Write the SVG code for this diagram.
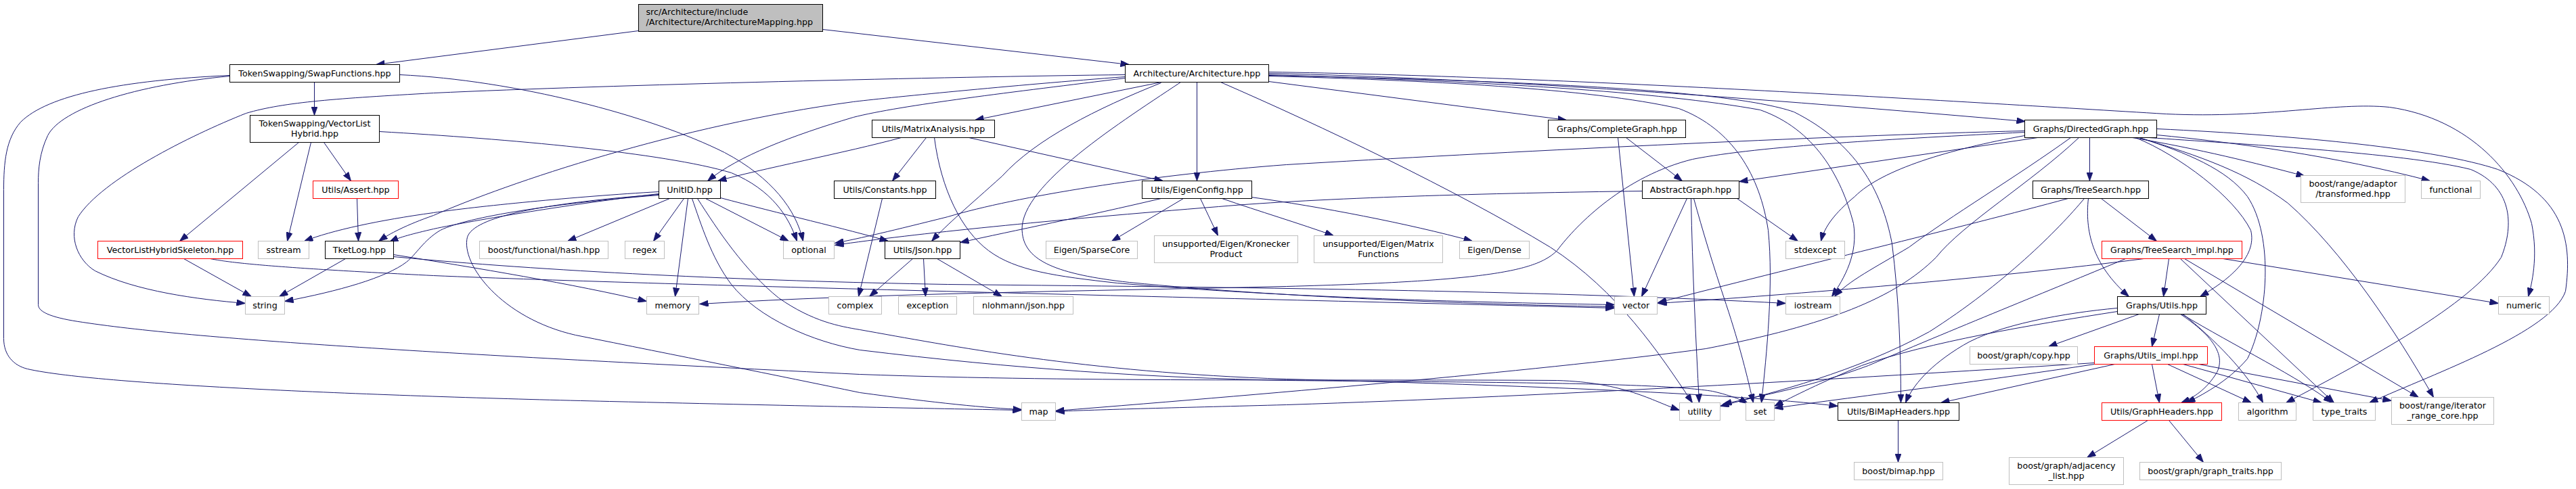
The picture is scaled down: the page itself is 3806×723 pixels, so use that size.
<svg xmlns="http://www.w3.org/2000/svg" width="3806" height="723" viewBox="0 0 3806 723">
<style>
.e{fill:none;stroke:#191970;stroke-width:1;marker-end:url(#a)}
.b rect{fill:#fff;stroke:#000}
.x rect{fill:#fff;stroke:#bfbfbf}
.r rect{fill:#fff;stroke:#ff0000}
.root rect{fill:#bfbfbf;stroke:#000}
text{font-family:"DejaVu Sans",sans-serif;font-size:12.7px;fill:#000;text-anchor:middle}
.root text{text-anchor:start}
</style>
<defs>
<marker id="a" viewBox="0 0 13 9.4" refX="13" refY="4.7" markerWidth="13" markerHeight="9.4" markerUnits="userSpaceOnUse" orient="auto"><path d="M0,0L13,4.7L0,9.4z" fill="#191970" stroke="#191970" stroke-width="0.8"/></marker>
</defs>
<rect width="3806" height="723" fill="#fff"/>
<g transform="translate(0.5 0.5)">
<g id="edges">
<path class="e" d="M943,45L555,95"/>
<path class="e" d="M1215,43L1668,95"/>
<path class="e" d="M464,121L464,170"/>
<path class="e" d="M590,110C760,118 960,170 1070,225C1140,262 1176,310 1186,356"/>
<path class="e" d="M560,194C750,205 980,225 1080,255C1140,280 1165,320 1177,356"/>
<path class="e" d="M441,210L265,356"/>
<path class="e" d="M459,210L424,356"/>
<path class="e" d="M478,210L518,267"/>
<path class="e" d="M527,293L529,356"/>
<path class="e" d="M339,111C180,118 70,140 30,180C8,205 5,240 5,280L5,500C5,525 20,540 40,545C150,570 600,586 900,593C1200,600 1400,604 1509,606"/>
<path class="e" d="M339,112C200,125 90,160 70,200C58,225 56,250 56,270L56,450C56,462 80,470 122,476C300,503 700,525 1270,553C1600,565 2000,560 2300,562C2400,565 2440,592 2481,606"/>
<path class="e" d="M1662,110C1400,113 900,125 640,137C500,145 420,150 363,167C280,200 150,265 115,320C100,350 115,385 140,400C200,430 290,442 362,448"/>
<path class="e" d="M1662,115C1500,135 1330,155 1260,173C1170,200 1090,230 1045,267"/>
<path class="e" d="M1331,203C1250,225 1120,250 1060,267"/>
<path class="e" d="M1662,113C1500,125 1300,145 1260,150C1000,185 750,270 640,318C600,332 575,345 559,356"/>
<path class="e" d="M973,283C850,290 700,305 640,314C560,325 490,340 449,356"/>
<path class="e" d="M973,286C850,300 700,325 640,338C610,345 590,350 575,357"/>
<path class="e" d="M973,288C820,300 690,320 650,340C625,355 615,375 600,387C570,410 500,430 420,445"/>
<path class="e" d="M989,293L838,356"/>
<path class="e" d="M1010,293L965,356"/>
<path class="e" d="M1016,293L997,438"/>
<path class="e" d="M1042,293L1165,356"/>
<path class="e" d="M1064,292C1150,315 1250,338 1312,356"/>
<path class="e" d="M973,287C800,300 700,320 690,350C680,390 740,470 850,495C1000,525 1150,555 1270,580C1380,595 1460,603 1509,605"/>
<path class="e" d="M1022,293C1035,330 1050,380 1080,420C1120,470 1200,505 1270,517C1500,545 1700,558 1900,562C2200,565 2450,565 2530,578C2560,585 2575,592 2582,596"/>
<path class="e" d="M1030,293C1060,340 1100,400 1150,440C1200,475 1240,482 1270,487C1400,510 1600,550 1900,560C2200,568 2550,580 2715,600"/>
<path class="e" d="M1368,203L1318,267"/>
<path class="e" d="M1431,203L1718,267"/>
<path class="e" d="M1380,203C1390,280 1420,340 1460,370C1500,400 1560,408 1650,418C1900,440 2200,447 2385,450"/>
<path class="e" d="M1715,121L1440,177"/>
<path class="e" d="M1768,121L1768,267"/>
<path class="e" d="M1715,122C1620,160 1530,205 1480,260C1430,305 1400,330 1376,356"/>
<path class="e" d="M1744,121C1640,190 1500,280 1510,345C1515,385 1560,405 1668,417C1900,440 2200,450 2385,453"/>
<path class="e" d="M1874,120L2314,177"/>
<path class="e" d="M1803,121C1950,185 2150,280 2290,365C2390,430 2450,520 2500,595"/>
<path class="e" d="M1874,108C2200,115 2600,145 2992,179"/>
<path class="e" d="M1874,106C2300,112 2900,150 3200,168C3350,175 3450,150 3530,158C3650,175 3720,260 3740,330C3750,380 3740,420 3735,438"/>
<path class="e" d="M1874,110C2200,120 2450,135 2600,162C2680,190 2720,260 2738,330C2745,375 2725,410 2706,438"/>
<path class="e" d="M1874,112C2100,118 2350,130 2480,160C2560,190 2600,260 2612,340C2620,420 2610,520 2602,595"/>
<path class="e" d="M1874,111C2200,118 2550,130 2650,165C2740,210 2780,280 2795,360C2805,440 2808,520 2808,595"/>
<path class="e" d="M2402,203L2485,267"/>
<path class="e" d="M2390,203L2414,438"/>
<path class="e" d="M2426,282C2200,285 1950,292 1800,305C1550,325 1350,345 1233,362"/>
<path class="e" d="M2991,193C2700,200 2200,225 1900,243C1700,258 1500,290 1400,320C1320,340 1270,352 1233,359"/>
<path class="e" d="M2492,293L2425,438"/>
<path class="e" d="M2498,293C2500,400 2505,500 2510,595"/>
<path class="e" d="M2502,293C2515,340 2530,390 2550,450C2570,510 2582,560 2590,595"/>
<path class="e" d="M2566,293L2656,356"/>
<path class="e" d="M3010,203L2569,268"/>
<path class="e" d="M2991,200C2880,220 2780,250 2740,290C2710,315 2695,335 2690,356"/>
<path class="e" d="M2991,195C2800,205 2600,215 2500,235C2400,260 2330,330 2300,370C2270,400 2200,415 1900,423C1600,430 1300,433 1033,449"/>
<path class="e" d="M3087,203L3087,267"/>
<path class="e" d="M3059,203C2980,260 2880,320 2820,365C2770,395 2730,415 2710,438"/>
<path class="e" d="M3071,203C3000,270 2900,330 2860,380C2800,440 2700,480 2520,515C2300,545 1900,580 1559,607"/>
<path class="e" d="M3186,190C3400,200 3600,220 3690,250C3790,290 3800,360 3790,430C3770,490 3600,550 3500,595"/>
<path class="e" d="M3175,203C3300,212 3550,225 3650,250C3710,275 3715,330 3695,380C3650,450 3500,530 3377,595"/>
<path class="e" d="M3186,199C3300,210 3450,230 3590,267"/>
<path class="e" d="M3150,203C3250,220 3330,240 3405,260"/>
<path class="e" d="M3160,203C3250,230 3320,255 3380,300C3460,370 3540,490 3595,587"/>
<path class="e" d="M3160,203C3230,225 3290,250 3320,290C3360,350 3350,470 3320,530C3290,565 3250,585 3230,595"/>
<path class="e" d="M3155,203C3220,230 3300,290 3325,340C3335,380 3290,415 3250,438"/>
<path class="e" d="M3104,293L3186,356"/>
<path class="e" d="M3085,293C3080,340 3090,390 3145,438"/>
<path class="e" d="M3055,293C2900,335 2650,395 2449,447"/>
<path class="e" d="M3079,293C3040,340 2960,420 2850,490C2740,550 2620,580 2541,600"/>
<path class="e" d="M3204,382L3196,438"/>
<path class="e" d="M3221,382L3448,595"/>
<path class="e" d="M3227,382L3573,587"/>
<path class="e" d="M3284,382L3691,448"/>
<path class="e" d="M3167,382C2950,410 2650,435 2449,448"/>
<path class="e" d="M3140,382C3050,420 2900,480 2760,540C2680,570 2600,585 2545,597"/>
<path class="e" d="M3160,464L3026,512"/>
<path class="e" d="M3190,464L3179,512"/>
<path class="e" d="M3221,464C3260,490 3290,520 3275,550C3260,575 3240,588 3222,595"/>
<path class="e" d="M3225,464C3270,500 3320,550 3343,595"/>
<path class="e" d="M3223,464C3300,510 3400,560 3445,595"/>
<path class="e" d="M3128,455C3050,462 2950,480 2900,510C2850,540 2825,570 2815,595"/>
<path class="e" d="M3128,460C3000,480 2850,505 2750,540C2690,565 2650,585 2621,600"/>
<path class="e" d="M3179,538L3190,595"/>
<path class="e" d="M3202,538L3326,595"/>
<path class="e" d="M3225,538L3430,595"/>
<path class="e" d="M3248,538L3533,592"/>
<path class="e" d="M3124,538L2867,595"/>
<path class="e" d="M3094,538C2950,560 2750,585 2621,603"/>
<path class="e" d="M3094,536C2800,555 2300,585 1900,598C1750,602 1620,605 1559,608"/>
<path class="e" d="M3173,621L3083,676"/>
<path class="e" d="M3204,621L3255,683"/>
<path class="e" d="M2804,621L2804,683"/>
<path class="e" d="M1348,382L1284,438"/>
<path class="e" d="M1364,382L1367,438"/>
<path class="e" d="M1384,382L1480,438"/>
<path class="e" d="M1303,293L1268,438"/>
<path class="e" d="M1715,293C1600,320 1500,340 1418,358"/>
<path class="e" d="M1748,293L1642,356"/>
<path class="e" d="M1773,293L1799,348"/>
<path class="e" d="M1805,293C1860,312 1920,330 1970,348"/>
<path class="e" d="M1848,291C1950,305 2080,330 2175,356"/>
<path class="e" d="M271,382L371,438"/>
<path class="e" d="M310,382C340,388 400,395 640,407C1000,422 1800,440 2385,455"/>
<path class="e" d="M510,382L412,438"/>
<path class="e" d="M581,376C700,395 850,420 955,445"/>
<path class="e" d="M581,379C800,400 1100,415 1400,420C1900,425 2300,430 2638,448"/>
</g>
<g id="n0" class="root"><rect x="943" y="6" width="272" height="40"/><text x="954" y="21.5">src/Architecture/include</text><text x="954" y="36.5">/Architecture/ArchitectureMapping.hpp</text></g>
<g id="n1" class="b"><rect x="339" y="95" width="251" height="26"/><text x="464.5" y="112.5">TokenSwapping/SwapFunctions.hpp</text></g>
<g id="n2" class="b"><rect x="1662" y="95" width="212" height="26"/><text x="1768" y="112.5">Architecture/Architecture.hpp</text></g>
<g id="n3" class="b"><rect x="369" y="170" width="191" height="40"/><text x="464.5" y="186">TokenSwapping/VectorList</text><text x="464.5" y="201">Hybrid.hpp</text></g>
<g id="n4" class="b"><rect x="1288" y="177" width="181" height="26"/><text x="1378.5" y="194.5">Utils/MatrixAnalysis.hpp</text></g>
<g id="n5" class="b"><rect x="2287" y="177" width="203" height="26"/><text x="2388.5" y="194.5">Graphs/CompleteGraph.hpp</text></g>
<g id="n6" class="b"><rect x="2991" y="177" width="195" height="26"/><text x="3088.5" y="194.5">Graphs/DirectedGraph.hpp</text></g>
<g id="n7" class="r"><rect x="462" y="267" width="126" height="26"/><text x="525" y="284.5">Utils/Assert.hpp</text></g>
<g id="n8" class="b"><rect x="973" y="267" width="91" height="26"/><text x="1018.5" y="284.5">UnitID.hpp</text></g>
<g id="n9" class="b"><rect x="1232" y="267" width="150" height="26"/><text x="1307" y="284.5">Utils/Constants.hpp</text></g>
<g id="n10" class="b"><rect x="1687" y="267" width="162" height="26"/><text x="1768" y="284.5">Utils/EigenConfig.hpp</text></g>
<g id="n11" class="b"><rect x="2426" y="267" width="143" height="26"/><text x="2497.5" y="284.5">AbstractGraph.hpp</text></g>
<g id="n12" class="b"><rect x="3003" y="267" width="171" height="26"/><text x="3088.5" y="284.5">Graphs/TreeSearch.hpp</text></g>
<g id="n13" class="x"><rect x="3399" y="259" width="154" height="40"/><text x="3476" y="275">boost/range/adaptor</text><text x="3476" y="290">/transformed.hpp</text></g>
<g id="n14" class="x"><rect x="3577" y="267" width="87" height="26"/><text x="3620.5" y="284.5">functional</text></g>
<g id="n15" class="r"><rect x="144" y="356" width="214" height="26"/><text x="251" y="373.5">VectorListHybridSkeleton.hpp</text></g>
<g id="n16" class="x"><rect x="381" y="356" width="75" height="26"/><text x="418.5" y="373.5">sstream</text></g>
<g id="n17" class="b"><rect x="480" y="356" width="101" height="26"/><text x="530.5" y="373.5">TketLog.hpp</text></g>
<g id="n18" class="x"><rect x="708" y="356" width="190" height="26"/><text x="803" y="373.5">boost/functional/hash.hpp</text></g>
<g id="n19" class="x"><rect x="923" y="356" width="58" height="26"/><text x="952" y="373.5">regex</text></g>
<g id="n20" class="x"><rect x="1157" y="356" width="75" height="26"/><text x="1194.5" y="373.5">optional</text></g>
<g id="n21" class="b"><rect x="1307" y="356" width="111" height="26"/><text x="1362.5" y="373.5">Utils/Json.hpp</text></g>
<g id="n22" class="x"><rect x="1545" y="356" width="135" height="26"/><text x="1612.5" y="373.5">Eigen/SparseCore</text></g>
<g id="n23" class="x"><rect x="1705" y="348" width="212" height="40"/><text x="1811" y="364">unsupported/Eigen/Kronecker</text><text x="1811" y="379">Product</text></g>
<g id="n24" class="x"><rect x="1941" y="348" width="190" height="40"/><text x="2036" y="364">unsupported/Eigen/Matrix</text><text x="2036" y="379">Functions</text></g>
<g id="n25" class="x"><rect x="2156" y="356" width="103" height="26"/><text x="2207.5" y="373.5">Eigen/Dense</text></g>
<g id="n26" class="x"><rect x="2638" y="356" width="87" height="26"/><text x="2681.5" y="373.5">stdexcept</text></g>
<g id="n27" class="r"><rect x="3105" y="356" width="207" height="26"/><text x="3208.5" y="373.5">Graphs/TreeSearch_impl.hpp</text></g>
<g id="n28" class="x"><rect x="362" y="438" width="58" height="26"/><text x="391" y="455.5">string</text></g>
<g id="n29" class="x"><rect x="955" y="438" width="77" height="26"/><text x="993.5" y="455.5">memory</text></g>
<g id="n30" class="x"><rect x="1224" y="438" width="78" height="26"/><text x="1263" y="455.5">complex</text></g>
<g id="n31" class="x"><rect x="1327" y="438" width="86" height="26"/><text x="1370" y="455.5">exception</text></g>
<g id="n32" class="x"><rect x="1438" y="438" width="147" height="26"/><text x="1511.5" y="455.5">nlohmann/json.hpp</text></g>
<g id="n33" class="x"><rect x="2385" y="438" width="63" height="26"/><text x="2416.5" y="455.5">vector</text></g>
<g id="n34" class="x"><rect x="2638" y="438" width="80" height="26"/><text x="2678" y="455.5">iostream</text></g>
<g id="n35" class="b"><rect x="3128" y="438" width="131" height="26"/><text x="3193.5" y="455.5">Graphs/Utils.hpp</text></g>
<g id="n36" class="x"><rect x="3691" y="438" width="75" height="26"/><text x="3728.5" y="455.5">numeric</text></g>
<g id="n37" class="x"><rect x="2910" y="512" width="159" height="26"/><text x="2989.5" y="529.5">boost/graph/copy.hpp</text></g>
<g id="n38" class="r"><rect x="3094" y="512" width="167" height="26"/><text x="3177.5" y="529.5">Graphs/Utils_impl.hpp</text></g>
<g id="n39" class="x"><rect x="1509" y="595" width="50" height="26"/><text x="1534" y="612.5">map</text></g>
<g id="n40" class="x"><rect x="2481" y="595" width="60" height="26"/><text x="2511" y="612.5">utility</text></g>
<g id="n41" class="x"><rect x="2579" y="595" width="42" height="26"/><text x="2600" y="612.5">set</text></g>
<g id="n42" class="b"><rect x="2715" y="595" width="179" height="26"/><text x="2804.5" y="612.5">Utils/BiMapHeaders.hpp</text></g>
<g id="n43" class="r"><rect x="3105" y="595" width="177" height="26"/><text x="3193.5" y="612.5">Utils/GraphHeaders.hpp</text></g>
<g id="n44" class="x"><rect x="3307" y="595" width="85" height="26"/><text x="3349.5" y="612.5">algorithm</text></g>
<g id="n45" class="x"><rect x="3417" y="595" width="92" height="26"/><text x="3463" y="612.5">type_traits</text></g>
<g id="n46" class="x"><rect x="3533" y="587" width="151" height="40"/><text x="3608.5" y="603">boost/range/iterator</text><text x="3608.5" y="618">_range_core.hpp</text></g>
<g id="n47" class="x"><rect x="2739" y="683" width="131" height="26"/><text x="2804.5" y="700.5">boost/bimap.hpp</text></g>
<g id="n48" class="x"><rect x="2968" y="676" width="169" height="40"/><text x="3052.5" y="692">boost/graph/adjacency</text><text x="3052.5" y="707">_list.hpp</text></g>
<g id="n49" class="x"><rect x="3161" y="683" width="209" height="26"/><text x="3265.5" y="700.5">boost/graph/graph_traits.hpp</text></g>
</g>
</svg>
